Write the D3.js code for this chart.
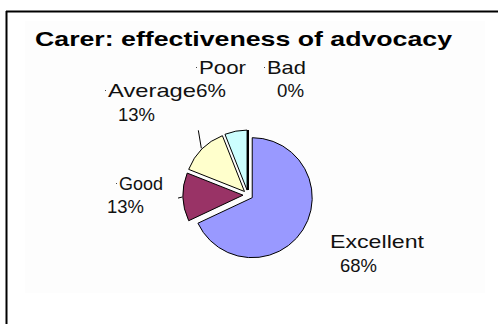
<!DOCTYPE html>
<html><head><meta charset="utf-8">
<script src="https://cdn.jsdelivr.net/npm/d3@7"></script>
<style>html,body{margin:0;padding:0;background:#fff;}svg{display:block;}</style>
</head><body>
<script>
// ---- data ----
const title = "Carer: effectiveness of advocacy";
const categories = ["Excellent", "Good", "Average", "Poor", "Bad"];
const percents = [68, 13, 13, 6, 0];
const colors = ["#9999FF", "#993366", "#FFFFCC", "#CCFFFF", "#FFFFFF"];

// ---- layout (label placement, not data) ----
const W = 498, H = 324;
const cx = 248, cy = 195, R = 60, explode = 5;
const nameLayout = {
  Excellent: {x: 330, y: 248, w: 94},
  Good:      {x: 119, y: 190, w: 44},
  Average:   {x: 108, y: 97,  w: 88},
  Poor:      {x: 199, y: 74,  w: 47},
  Bad:       {x: 267, y: 74,  w: 39}
};
const pctLayout = {
  Excellent: {x: 340, y: 272, w: 37},
  Good:      {x: 107, y: 213, w: 37},
  Average:   {x: 118, y: 121, w: 37},
  Poor:      {x: 196, y: 97,  w: 30},
  Bad:       {x: 277, y: 97,  w: 27}
};

const svg = d3.select("body").append("svg").attr("width", W).attr("height", H);
svg.append("rect").attr("width", W).attr("height", H).attr("fill", "#fff");
// faint plot area
svg.append("rect").attr("x", 25).attr("y", 21).attr("width", 460).attr("height", 272).attr("fill", "#fdfdfd");
// frame (top & left visible)
svg.append("line").attr("x1", 6).attr("x2", W).attr("y1", 11.5).attr("y2", 11.5).attr("stroke", "#000").attr("stroke-width", 2);
svg.append("line").attr("x1", 6.5).attr("x2", 6.5).attr("y1", 11).attr("y2", H).attr("stroke", "#000").attr("stroke-width", 2);

const font = "'Liberation Sans', Arial, sans-serif";
svg.append("text").attr("x", 35).attr("y", 46).text(title)
  .attr("font-family", font).attr("font-weight", "bold").attr("font-size", 21)
  .attr("textLength", 417).attr("lengthAdjust", "spacingAndGlyphs").attr("fill", "#000");

const data = categories.map((c, i) => ({cat: c, value: percents[i], color: colors[i]}));
const pie = d3.pie().sort(null).value(d => d.value).startAngle(0).endAngle(2 * Math.PI);
const arc = d3.arc().innerRadius(0).outerRadius(R);
const arcs = pie(data);

const g = svg.append("g").attr("transform", `translate(${cx},${cy})`);
g.selectAll("path").data(arcs).enter().append("path")
  .attr("transform", d => {
    const a = (d.startAngle + d.endAngle) / 2;
    return `translate(${explode * Math.sin(a)},${-explode * Math.cos(a)})`;
  })
  .attr("d", d => d.endAngle - d.startAngle > 0 ? arc(d)
        : `M0,0L${R * Math.sin(d.startAngle)},${-R * Math.cos(d.startAngle)}`)
  .attr("fill", d => d.data.color)
  .attr("stroke", "#000").attr("stroke-width", d => d.value > 0 ? 1 : 2)
  .attr("stroke-linejoin", "round");

// leader lines for Average and Good
function outerPoint(d, extra) {
  const a = (d.startAngle + d.endAngle) / 2;
  return [cx + (explode + R + extra) * Math.sin(a), cy - (explode + R + extra) * Math.cos(a)];
}
const avg = arcs[2], good = arcs[1];
const p1 = outerPoint(avg, 1);
svg.append("line").attr("x1", p1[0]).attr("y1", p1[1]).attr("x2", p1[0] - 3).attr("y2", p1[1] - 18)
  .attr("stroke", "#000").attr("stroke-width", 1);
const p2 = outerPoint(good, 1);
svg.append("line").attr("x1", p2[0]).attr("y1", p2[1]).attr("x2", p2[0] - 4).attr("y2", p2[1] + 1)
  .attr("stroke", "#000").attr("stroke-width", 1);

// labels
const lab = svg.append("g").attr("font-family", font).attr("font-size", 19).attr("fill", "#111");
arcs.forEach(d => {
  const n = nameLayout[d.data.cat], p = pctLayout[d.data.cat];
  lab.append("text").attr("x", n.x).attr("y", n.y).text(d.data.cat)
    .attr("textLength", n.w).attr("lengthAdjust", "spacingAndGlyphs");
  lab.append("text").attr("x", p.x).attr("y", p.y).text(d.data.value + "%")
    .attr("textLength", p.w).attr("lengthAdjust", "spacingAndGlyphs");
  if (d.data.cat !== "Excellent") {
    lab.append("rect").attr("x", n.x - 3).attr("y", n.y - 7).attr("width", 1).attr("height", 1).attr("fill", "#444");
  }
});
</script>
</body></html>
